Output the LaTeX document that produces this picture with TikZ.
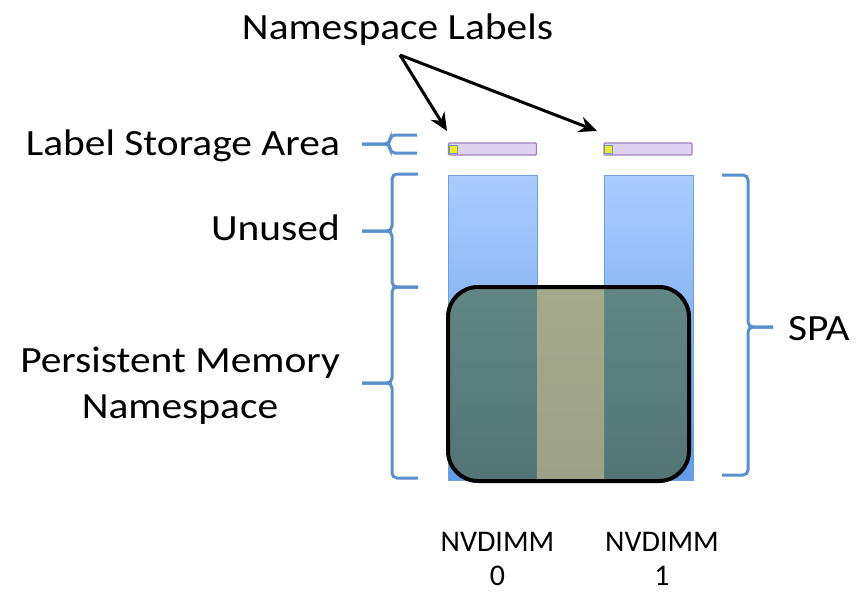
\documentclass[tikz,border=0pt]{standalone}
\usepackage{fontspec}
\setmainfont{Carlito}
\usepackage{graphicx}
\usetikzlibrary{arrows.meta}

\definecolor{bracecol}{RGB}{91,143,204}
\definecolor{coltop}{RGB}{170,204,255}
\definecolor{colbot}{RGB}{98,156,230}
\definecolor{coledge}{RGB}{112,160,220}
\definecolor{tealtop}{RGB}{97,135,133}
\definecolor{tealbot}{RGB}{83,116,117}
\definecolor{olivetop}{RGB}{164,168,140}
\definecolor{olivebot}{RGB}{157,161,136}
\definecolor{barfill}{RGB}{222,210,242}
\definecolor{baredge}{RGB}{160,128,192}
\definecolor{hdrfill}{RGB}{238,238,30}
\definecolor{hdredge}{RGB}{110,150,200}

% slightly widened caption text
\newcommand\widetext[1]{\scalebox{1.12}[1]{#1}}

\begin{document}
\begin{tikzpicture}[x=1pt,y=-1pt,
  lbl/.style={inner sep=0pt, font=\fontsize{37}{46}\selectfont},
  smalllbl/.style={inner sep=0pt, align=center, text depth=0pt, font=\fontsize{30}{34}\selectfont},
  bracket/.style={draw=bracecol, line width=3pt, rounded corners=5pt},
  pointer/.style={draw=black, line width=3pt, -{Stealth[length=18pt,width=16pt,inset=6pt]}},
  labelbar/.style={draw=baredge, fill=barfill, line width=1.2pt, rounded corners=1pt,
    minimum width=88pt, minimum height=12pt, inner sep=0pt},
  hdrbox/.style={draw=hdredge, fill=hdrfill, line width=1pt,
    minimum size=8pt, inner sep=0pt},
  dimmcol/.style={draw=coledge, line width=0.8pt, top color=coltop, bottom color=colbot}]

\useasboundingbox (0,0) rectangle (858,594);

% DIMM address columns
\path[dimmcol] (448,175) rectangle (537,480);
\path[dimmcol] (604,175) rectangle (693,480);

% persistent memory namespace spanning both DIMMs
\begin{scope}
  \clip[rounded corners=30pt] (448,287) rectangle (689,481);
  \shade[top color=tealtop, bottom color=tealbot] (448,287) rectangle (689,481);
  \shade[top color=olivetop, bottom color=olivebot] (537,287) rectangle (604,481);
\end{scope}
\draw[line width=4pt, rounded corners=30pt] (448,287) rectangle (689,481);

% label storage areas
\node[labelbar] (bar0) at (492.5,149) {};
\node[labelbar] (bar1) at (648,149) {};
\node[hdrbox] (hdr0) at (453.5,149) {};
\node[hdrbox] (hdr1) at (608.5,149) {};

% captions (base anchor of a multi-line node sits on its last line)
\node[lbl, anchor=base] (nslabels) at (397.5,40) {\widetext{Namespace Labels}};
\node[lbl, anchor=base east] (lsa) at (340,155) {\widetext{Label Storage Area}};
\node[lbl, anchor=base east] (unused) at (340,240) {\widetext{Unused}};
\node[lbl, anchor=base, align=center] (pmn) at (180,418) {\widetext{Persistent Memory}\\\widetext{Namespace}};
\node[lbl, anchor=base west] (spa) at (788,340) {\widetext{SPA}};
\node[smalllbl, anchor=base] (dimm0) at (497.5,585) {NVDIMM\\0};
\node[smalllbl, anchor=base] (dimm1) at (662,585) {NVDIMM\\1};

% pointers to the namespace labels
\coordinate (apex) at (400,55);
\coordinate (tip0) at (447,131);
\coordinate (tip1) at (597,131);
\draw[pointer] (apex) -- (tip0);
\draw[pointer] (apex) -- (tip1);

% brackets on the left
\draw[bracket] (417,135) -- (390,135) -- (390,144) -- (362,144);
\draw[bracket] (417,153) -- (390,153) -- (390,144) -- (362,144);
\draw[bracket] (418,174) -- (392,174) -- (392,231) -- (362,231);
\draw[bracket] (418,287) -- (392,287) -- (392,231) -- (362,231);
\draw[bracket] (418,287) -- (392,287) -- (392,383) -- (362,383);
\draw[bracket] (418,478) -- (392,478) -- (392,383) -- (362,383);

% bracket on the right
\draw[bracket] (722,175) -- (748,175) -- (748,327) -- (773,327);
\draw[bracket] (722,475) -- (748,475) -- (748,327) -- (773,327);

\end{tikzpicture}
\end{document}
